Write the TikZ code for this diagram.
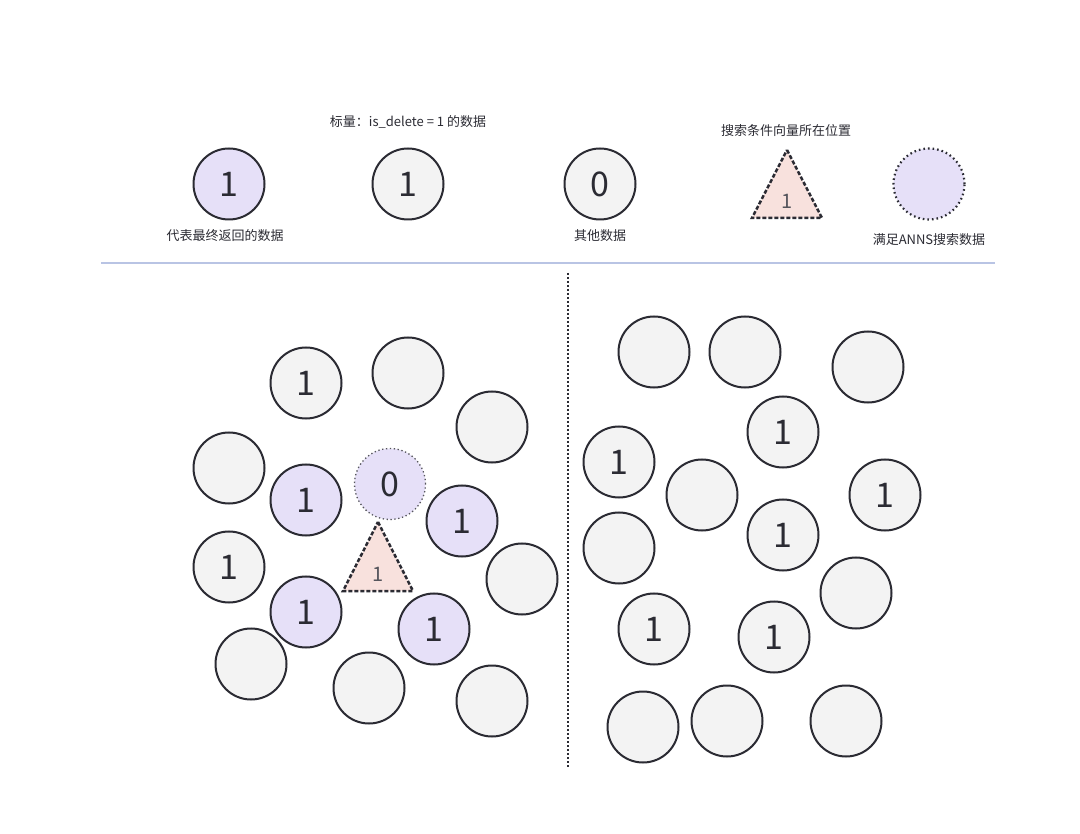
\documentclass[tikz,border=0pt]{standalone}
\usepackage{fontspec}
\setmainfont{Noto Sans CJK SC}
\usetikzlibrary{positioning}
\definecolor{picked}{HTML}{E6E0F8}
\definecolor{plain}{HTML}{F3F3F3}
\definecolor{querypink}{HTML}{F8E1DD}
\definecolor{ink}{HTML}{2B2B33}
\definecolor{rule}{HTML}{B9C4E4}
\tikzset{
  dot/.style={circle, draw=ink, line width=2pt, minimum size=71pt, inner sep=0pt,
    text=ink, font=\fontsize{34}{36}\selectfont},
  pickeddot/.style={dot, fill=picked},
  plaindot/.style={dot, fill=plain},
  annsdot/.style={dot, fill=picked, draw=ink!80, line width=1.3pt, dash pattern=on 1.3pt off 2.6pt},
  query/.style={fill=querypink, draw=ink, line width=2.5pt, dash pattern=on 4pt off 2pt},
  caption/.style={text=ink, font=\fontsize{13}{15}\selectfont}
}
\begin{document}
\begin{tikzpicture}[x=1pt, y=-1pt]
\useasboundingbox[fill=white] (0,0) rectangle (1080,834);
% legend
\node[caption] (legtitle) at (408,122) {标量：is\_delete = 1 的数据};
\node[pickeddot] (legA) at (229,184) {1};
\node[plaindot] (legB) at (408,184) {1};
\node[plaindot] (legC) at (600,184) {0};
\node[caption] (legAtext) at (225,236) {代表最终返回的数据};
\node[caption] (legCtext) at (600,236) {其他数据};
\node[caption] (legQtext) at (786,131) {搜索条件向量所在位置};
\draw[query] (787,150) -- (822,218) -- (752,218) -- cycle;
\node[text=ink!80, font=\fontsize{20}{22}\selectfont] (legQ) at (787,201) {1};
\node[dot, fill=picked, line width=2.2pt, dash pattern=on 1.6pt off 3pt] (legD) at (929,184) {};
\node[caption] (legDtext) at (929,240) {满足ANNS搜索数据};
\draw[rule, line width=2pt] (101,263) -- (995,263);
\draw[ink, line width=1.8pt, dash pattern=on 2pt off 2pt] (568,273) -- (568,768);
% left half
\node[plaindot] (l1) at (306,383) {1};
\node[plaindot] (l2) at (408,373) {};
\node[plaindot] (l3) at (492,427) {};
\node[plaindot] (l4) at (229,468) {};
\node[pickeddot] (l5) at (306,500) {1};
\node[annsdot] (l6) at (390,484) {0};
\node[pickeddot] (l7) at (462,521) {1};
\node[plaindot] (l8) at (229,567) {1};
\node[plaindot] (l9) at (522,579) {};
\node[pickeddot] (l10) at (306,612) {1};
\node[pickeddot] (l11) at (434,629) {1};
\node[plaindot] (l12) at (251,664) {};
\node[plaindot] (l13) at (369,688) {};
\node[plaindot] (l14) at (492,701) {};
\draw[query] (378,522) -- (413,591) -- (343,591) -- cycle;
\node[text=ink!80, font=\fontsize{20}{22}\selectfont] (lq) at (378,574) {1};
% right half
\node[plaindot] (r1) at (654,352) {};
\node[plaindot] (r2) at (745,352) {};
\node[plaindot] (r3) at (868,367) {};
\node[plaindot] (r4) at (783,432) {1};
\node[plaindot] (r5) at (619,462) {1};
\node[plaindot] (r6) at (702,495) {};
\node[plaindot] (r7) at (885,495) {1};
\node[plaindot] (r8) at (783,535) {1};
\node[plaindot] (r9) at (619,548) {};
\node[plaindot] (r10) at (856,593) {};
\node[plaindot] (r11) at (654,629) {1};
\node[plaindot] (r12) at (774,637) {1};
\node[plaindot] (r13) at (643,727) {};
\node[plaindot] (r14) at (727,721) {};
\node[plaindot] (r15) at (846,721) {};
\end{tikzpicture}
\end{document}
